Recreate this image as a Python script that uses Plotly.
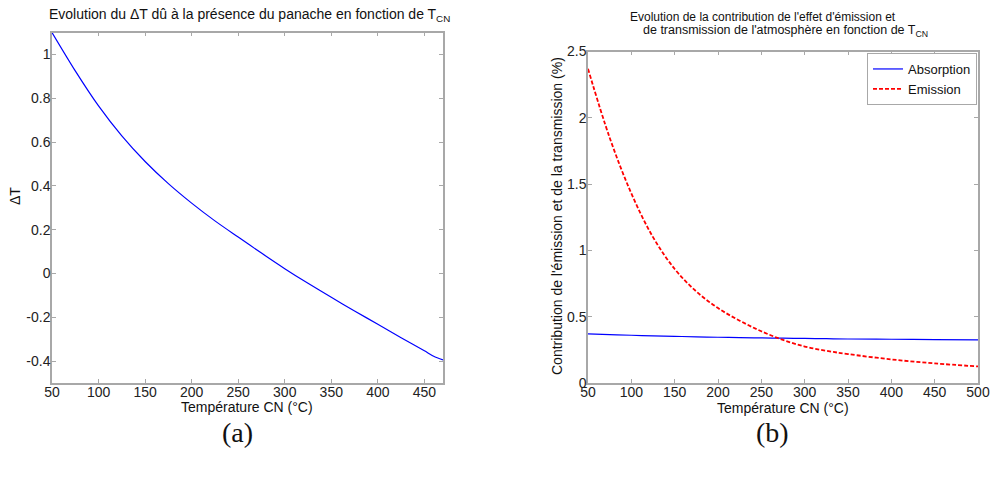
import plotly.graph_objects as go

# ---- data ----
temp_a = [50, 75, 100, 125, 150, 175, 200, 225, 250, 275, 300, 325, 350, 375, 400, 425, 450, 460, 470]
delta_t = [1.10, 0.925, 0.765, 0.628, 0.511, 0.41, 0.321, 0.24, 0.166, 0.093, 0.022, -0.045, -0.109, -0.171,
           -0.232, -0.293, -0.353, -0.378, -0.395]

temp_b = [50, 75, 100, 125, 150, 175, 200, 225, 250, 275, 300, 325, 350, 400, 450, 500]
absorption = [0.37, 0.365, 0.36, 0.356, 0.352, 0.348, 0.345, 0.342, 0.34, 0.338, 0.336, 0.334, 0.332, 0.33, 0.327, 0.325]
emission = [2.37, 1.85, 1.43, 1.10, 0.86, 0.69, 0.565, 0.47, 0.39, 0.325, 0.275, 0.243, 0.218, 0.178, 0.148, 0.125]

xticks_a = [50, 100, 150, 200, 250, 300, 350, 400, 450]
yticks_a = [-0.4, -0.2, 0, 0.2, 0.4, 0.6, 0.8, 1]
yticklabels_a = ["-0.4", "-0.2", "0", "0.2", "0.4", "0.6", "0.8", "1"]
xticks_b = [50, 100, 150, 200, 250, 300, 350, 400, 450, 500]
yticks_b = [0, 0.5, 1, 1.5, 2, 2.5]
yticklabels_b = ["0", "0.5", "1", "1.5", "2", "2.5"]

W, H = 994, 478
def px(x):
    return x / W
def py(y):
    return 1 - y / H

fig = go.Figure()
fig.add_trace(go.Scatter(x=temp_a, y=delta_t, mode="lines",
                         line=dict(color="#0000ff", width=1.2, shape="spline", smoothing=0.8),
                         showlegend=False, xaxis="x", yaxis="y"))
fig.add_trace(go.Scatter(x=temp_b, y=absorption, mode="lines", name="Absorption",
                         line=dict(color="#0000ff", width=1.2, shape="spline"), xaxis="x2", yaxis="y2"))
fig.add_trace(go.Scatter(x=temp_b, y=emission, mode="lines", name="Emission",
                         line=dict(color="#ff0000", width=1.8, dash="4px,2px", shape="spline"), xaxis="x2", yaxis="y2"))

axis_common = dict(showline=True, linecolor="#a8a8a8", linewidth=1.5, mirror="allticks", ticks="inside",
                   ticklen=4, tickcolor="#a8a8a8", showgrid=False, zeroline=False, automargin=False,
                   tickfont=dict(family="Liberation Sans, Arial", size=14, color="#222222"))

fig.update_layout(
    width=W, height=H, margin=dict(l=0, r=0, t=0, b=0, autoexpand=False),
    paper_bgcolor="white", plot_bgcolor="white",
    xaxis=dict(domain=[px(52), px(443)], range=[50, 470], tickvals=xticks_a, anchor="y",
               ticklabelstandoff=-5, **axis_common),
    yaxis=dict(domain=[py(383), py(32.5)], range=[-0.5, 1.1], tickvals=yticks_a, ticktext=yticklabels_a,
               anchor="x", ticklabelstandoff=-3, **axis_common),
    xaxis2=dict(domain=[px(588), px(978)], range=[50, 500], tickvals=xticks_b, anchor="y2",
                ticklabelstandoff=-5, **axis_common),
    yaxis2=dict(domain=[py(383), py(51.5)], range=[0, 2.5], tickvals=yticks_b, ticktext=yticklabels_b,
                anchor="x2", ticklabelstandoff=-3, **axis_common),
    legend=dict(x=px(977), y=py(53), xanchor="right", yanchor="top", bgcolor="white",
                bordercolor="#a8a8a8", borderwidth=1, itemwidth=30, tracegroupgap=0,
                font=dict(family="Liberation Sans, Arial", size=13, color="#111111")),
)

tfont_a = dict(family="Liberation Sans, Arial", size=14, color="#111111")
tfont_b1 = dict(family="Liberation Sans, Arial", size=12, color="#111111")
tfont_b2 = dict(family="Liberation Sans, Arial", size=12.5, color="#111111")
lfont = dict(family="Liberation Sans, Arial", size=14, color="#111111")
sfont = dict(family="Liberation Serif, DejaVu Serif", size=28, color="#111111")

ann = [
    dict(text="Evolution du \u0394T dû à la présence du panache en fonction de T<sub>CN</sub>",
         x=px(250), y=py(15), font=tfont_a),
    dict(text="Evolution de la contribution de l'effet d'émission et",
         x=px(763), y=py(17), font=tfont_b1),
    dict(text="de transmission de l'atmosphère en fonction de T<sub>CN</sub>",
         x=px(785), y=py(31), font=tfont_b2),
    dict(text="Température CN (°C)", x=px(247), y=py(407), font=lfont),
    dict(text="Température CN (°C)", x=px(783), y=py(408), font=lfont),
    dict(text="\u0394T", x=px(15), y=py(196), font=lfont, textangle=-90),
    dict(text="Contribution de l'émission et de la transmission (%)", x=px(557), y=py(216),
         font=lfont, textangle=-90),
    dict(text="(a)", x=px(237), y=py(432), font=sfont),
    dict(text="(b)", x=px(772), y=py(432), font=sfont),
]
for a in ann:
    a.update(xref="paper", yref="paper", showarrow=False, xanchor="center", yanchor="middle")
fig.update_layout(annotations=ann)

fig.write_html("out.html", config={"displayModeBar": False},
               post_script="document.body.style.margin='0';document.body.style.overflow='hidden';")
